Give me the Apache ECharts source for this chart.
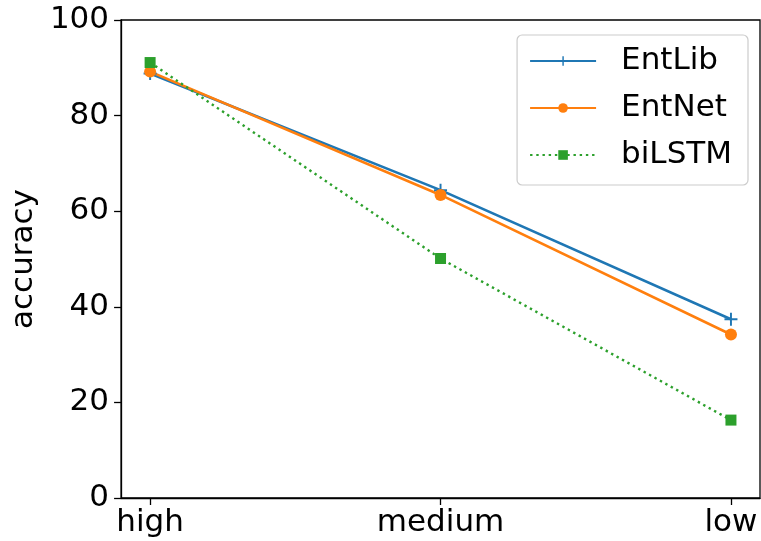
<!DOCTYPE html>
<html>
<head>
<meta charset="utf-8">
<script src="https://cdn.jsdelivr.net/npm/echarts@6/dist/echarts.min.js"></script>
<style>
  html, body { margin: 0; padding: 0; background: #fff; }
  #chart { width: 761px; height: 541px; }
</style>
</head>
<body>
<div id="chart"></div>
<script>
  var categories = ['high', 'medium', 'low']
  var entLib = [88.8, 64.4, 37.4]
  var entNet = [89.2, 63.4, 34.2]
  var biLSTM = [91.1, 50.1, 16.3]
  var yTicks = [0, 20, 40, 60, 80, 100]

  var FONT = 'DejaVu Sans'
  var SIZE = 31
  // plus marker as thin bars, path symbols get filled
  var plus = 'path://M0,5.1h12v1.8h-12z M5.1,0h1.8v12h-1.8z'

  function pairs (vals) {
    return vals.map(function (v, i) { return [i, v] })
  }

  var chart = echarts.init(document.getElementById('chart'))
  chart.setOption({
    animation: false,
    textStyle: { fontFamily: FONT, color: '#000' },
    grid: {
      left: 120, right: 1, top: 20, bottom: 43,
      show: true, borderColor: '#000', borderWidth: 1.3, backgroundColor: 'transparent'
    },
    legend: {
      right: 13, top: 35,
      orient: 'vertical',
      padding: [9, 16, 13, 12],
      itemWidth: 66, itemHeight: 12, itemGap: 13,
      borderColor: '#cccccc', borderWidth: 1.2, borderRadius: 5,
      backgroundColor: 'rgba(255,255,255,0.8)',
      textStyle: { fontFamily: FONT, fontSize: SIZE, color: '#000', lineHeight: 34, padding: [0, 0, 0, 20] }
    },
    xAxis: {
      type: 'value', min: -0.1, max: 2.1,
      splitLine: { show: false },
      axisLine: { onZero: false, lineStyle: { color: '#000', width: 1.3 } },
      axisTick: { customValues: [0, 1, 2], length: 7, lineStyle: { color: '#000', width: 1.3 } },
      axisLabel: {
        customValues: [0, 1, 2],
        margin: 9, fontFamily: FONT, fontSize: SIZE, color: '#000',
        formatter: function (v) { return categories[Math.round(v)] }
      }
    },
    yAxis: {
      type: 'value', min: yTicks[0], max: yTicks[yTicks.length - 1], interval: 20,
      name: 'accuracy', nameLocation: 'middle', nameGap: 82,
      nameTextStyle: { fontFamily: FONT, fontSize: SIZE, color: '#000' },
      splitLine: { show: false },
      axisLine: { show: true, onZero: false, lineStyle: { color: '#000', width: 1.3 } },
      axisTick: { show: true, length: 7, lineStyle: { color: '#000', width: 1.3 } },
      axisLabel: { margin: 12, fontFamily: FONT, fontSize: SIZE, color: '#000' }
    },
    series: [{
      name: 'EntLib', type: 'line', data: pairs(entLib),
      symbol: plus, symbolSize: 13,
      itemStyle: { color: '#1f77b4' },
      lineStyle: { color: '#1f77b4', width: 2.6 }
    }, {
      name: 'EntNet', type: 'line', data: pairs(entNet),
      symbol: 'circle', symbolSize: 12,
      itemStyle: { color: '#ff7f0e' },
      lineStyle: { color: '#ff7f0e', width: 2.6 }
    }, {
      name: 'biLSTM', type: 'line', data: pairs(biLSTM),
      symbol: 'rect', symbolSize: 11,
      itemStyle: { color: '#2ca02c' },
      lineStyle: { color: '#2ca02c', width: 2.4, type: [2.4, 3.8] }
    }]
  })
</script>
</body>
</html>
